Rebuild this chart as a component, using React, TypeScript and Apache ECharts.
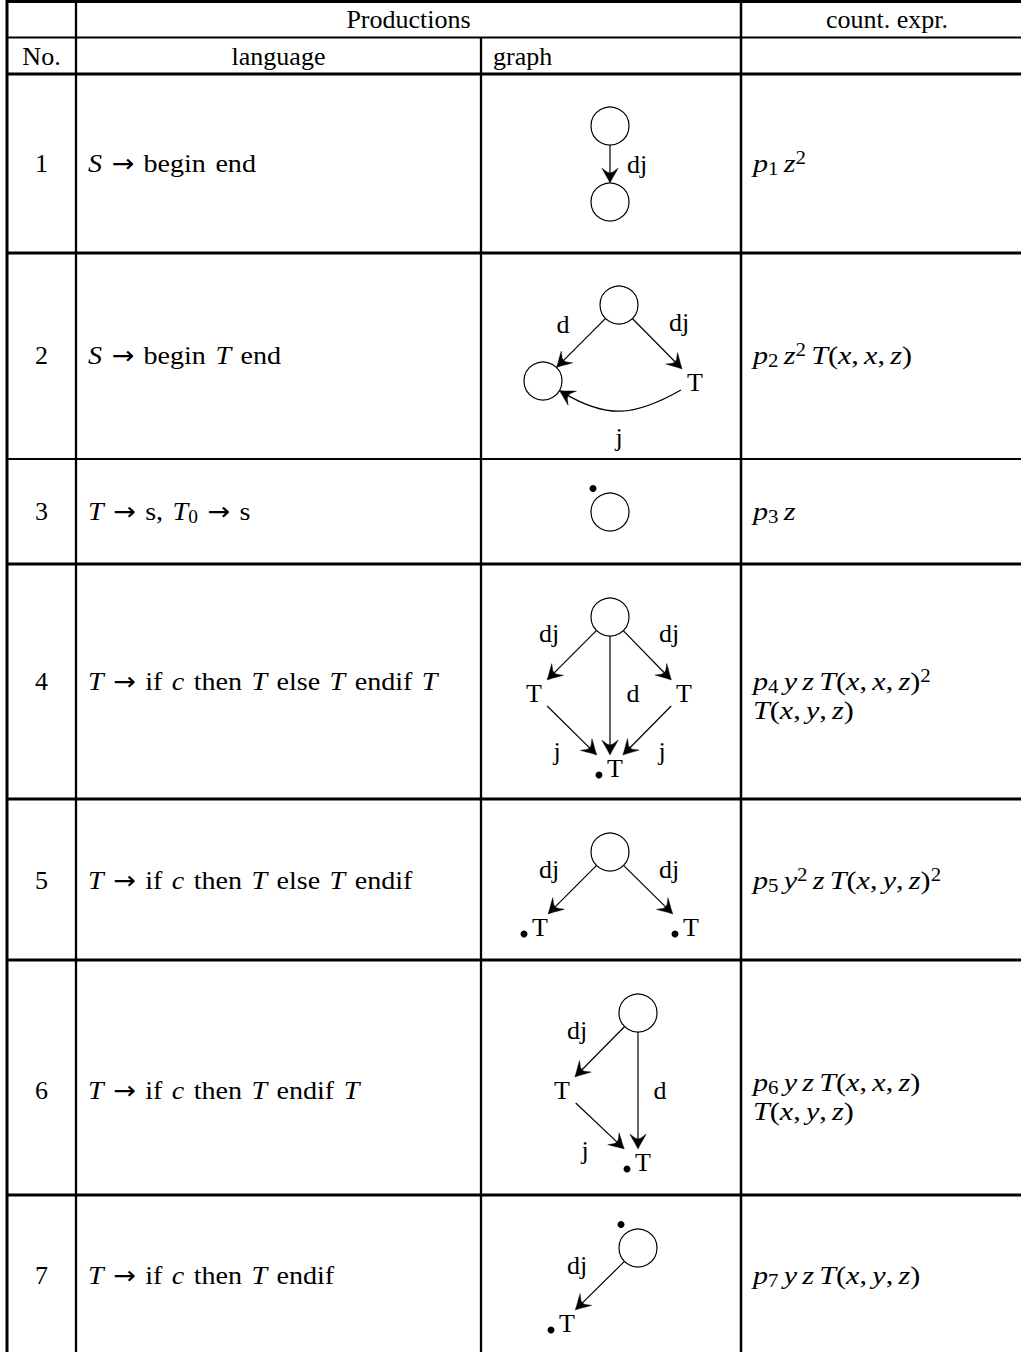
import React, { useEffect, useRef } from "react";
import * as echarts from "echarts";

const WIDTH = 1021;
const HEIGHT = 1352;
const FONT = "'Liberation Serif', 'Times New Roman', serif";
const FS = 26;
const SS = 18;
const LH = 29;

// ---- table content ----
const HEADER_TOP = ["Productions", "count. expr."];
const HEADER_SUB = ["No.", "language", "graph"];
const ROW_NUMBERS = ["1", "2", "3", "4", "5", "6", "7"];
const LANGUAGE = [
  "{i|S} {ar|→} begin end",
  "{i|S} {ar|→} begin {i|T} end",
  "{i|T} {ar|→} s, {i|T}{sub|0} {ar|→} s",
  "{i|T} {ar|→} if {i|c} then {i|T} else {i|T} endif {i|T}",
  "{i|T} {ar|→} if {i|c} then {i|T} else {i|T} endif",
  "{i|T} {ar|→} if {i|c} then {i|T} endif {i|T}",
  "{i|T} {ar|→} if {i|c} then {i|T} endif",
];
const EXPRESSIONS = [
  "{i|p}{sub|1} {i|z}{sup|2}",
  "{i|p}{sub|2} {i|z}{sup|2} {i|T}({i|x}, {i|x}, {i|z})",
  "{i|p}{sub|3} {i|z}",
  "{i|p}{sub|4} {i|y} {i|z} {i|T}({i|x}, {i|x}, {i|z}){sup|2}\n{i|T}({i|x}, {i|y}, {i|z})",
  "{i|p}{sub|5} {i|y}{sup|2} {i|z} {i|T}({i|x}, {i|y}, {i|z}){sup|2}",
  "{i|p}{sub|6} {i|y} {i|z} {i|T}({i|x}, {i|x}, {i|z})\n{i|T}({i|x}, {i|y}, {i|z})",
  "{i|p}{sub|7} {i|y} {i|z} {i|T}({i|x}, {i|y}, {i|z})",
];

// ---- graph content (node kinds, edges and their labels) ----
type GNode = { id: string; kind: "circle" | "T"; dot?: boolean };
type GEdge = { from: string; to: string; label: string; bend?: number };

const GRAPH_NODES: GNode[][] = [
  [{ id: "a", kind: "circle" }, { id: "b", kind: "circle" }],
  [{ id: "a", kind: "circle" }, { id: "l", kind: "circle" }, { id: "t", kind: "T" }],
  [{ id: "a", kind: "circle", dot: true }],
  [{ id: "a", kind: "circle" }, { id: "l", kind: "T" }, { id: "r", kind: "T" }, { id: "b", kind: "T", dot: true }],
  [{ id: "a", kind: "circle" }, { id: "l", kind: "T", dot: true }, { id: "r", kind: "T", dot: true }],
  [{ id: "a", kind: "circle" }, { id: "t", kind: "T" }, { id: "b", kind: "T", dot: true }],
  [{ id: "a", kind: "circle", dot: true }, { id: "b", kind: "T", dot: true }],
];
const GRAPH_EDGES: GEdge[][] = [
  [{ from: "a", to: "b", label: "dj" }],
  [
    { from: "a", to: "l", label: "d" },
    { from: "a", to: "t", label: "dj" },
    { from: "t", to: "l", label: "j", bend: 30 },
  ],
  [],
  [
    { from: "a", to: "l", label: "dj" },
    { from: "a", to: "r", label: "dj" },
    { from: "a", to: "b", label: "d" },
    { from: "l", to: "b", label: "j" },
    { from: "r", to: "b", label: "j" },
  ],
  [
    { from: "a", to: "l", label: "dj" },
    { from: "a", to: "r", label: "dj" },
  ],
  [
    { from: "a", to: "t", label: "dj" },
    { from: "a", to: "b", label: "d" },
    { from: "t", to: "b", label: "j" },
  ],
  [{ from: "a", to: "b", label: "dj" }],
];

// ---- layout (positions, sizes) ----
const NODE_POS: Record<string, [number, number]>[] = [
  { a: [610, 126], b: [610, 202] },
  { a: [619, 305], l: [543, 381], t: [695, 382] },
  { a: [610, 512] },
  { a: [610, 617], l: [534, 693], r: [684, 693], b: [610, 768] },
  { a: [610, 852], l: [535, 927], r: [686, 927] },
  { a: [638, 1013], t: [562, 1090], b: [638, 1162] },
  { a: [638, 1248], b: [562, 1323] },
];
const LABEL_POS: [number, number][][] = [
  [[637, 164]],
  [[563, 324], [679, 322], [619, 437]],
  [],
  [[549, 633], [669, 633], [633, 693], [557, 751], [662, 751]],
  [[549, 869], [669, 869]],
  [[577, 1030], [660, 1090], [585, 1150]],
  [[577, 1265]],
];
const ROW_TEXT_Y = [163, 355, 511, 681, 880, 1090, 1275];
const EXPR_Y = [163, 355, 511, 695.5, 880, 1097, 1275];
const H_LINES: [number, number][] = [
  [1.5, 3], [37.5, 2], [74, 3], [253, 3], [459, 2], [564, 3], [799, 3], [960, 3], [1195, 3],
];
const V_LINES: [number, number, number][] = [
  [7, 0, 3], [76, 0, 2.3], [481, 37.5, 2.3], [741, 0, 2.5],
];
const LANG_X = 88;
const EXPR_X = 753;
const LANG_SCALE = 1.08;
const EXPR_SCALE = 1.16;

const CIRCLE_R = 19;
const T_HW = 14;
const T_HH = 13;
const HEAD: [number, number][] = [
  [0, 0], [-5, -2.6], [-10.5, -5.8], [-15, -8.2], [-11, -3], [-10, 0],
  [-11, 3], [-15, 8.2], [-10.5, 5.8], [-5, 2.6],
];

const rich = {
  r: { fontFamily: FONT, fontSize: FS, lineHeight: LH, fill: "#000" },
  i: { fontFamily: FONT, fontSize: FS, fontStyle: "italic", lineHeight: LH, fill: "#000" },
  s: { fontFamily: FONT, fontSize: 35, lineHeight: LH, fill: "#000" },
  t: { fontFamily: FONT, fontSize: 18, lineHeight: LH, fill: "#000" },
  ar: { fontFamily: "'DejaVu Sans', sans-serif", fontSize: 25, lineHeight: LH, fill: "#000" },
  sub: { fontFamily: FONT, fontSize: SS, lineHeight: 16, verticalAlign: "bottom", fill: "#000" },
  sup: { fontFamily: FONT, fontSize: SS, lineHeight: 16, verticalAlign: "top", fill: "#000" },
};

// wrap plain segments into roman tokens and spaces into spacing tokens
function plainPart(s: string, space: string): string {
  return s
    .split("\n")
    .map((line) =>
      line
        .split(" ")
        .map((w) => (w ? `{r|${w}}` : ""))
        .join(`{${space}| }`)
    )
    .join("\n");
}
function toRich(src: string, space: string): string {
  const out: string[] = [];
  const re = /\{(\w+)\|([^}]*)\}/g;
  let last = 0;
  let m: RegExpExecArray | null;
  while ((m = re.exec(src))) {
    if (m.index > last) out.push(plainPart(src.slice(last, m.index), space));
    out.push(m[0]);
    last = re.lastIndex;
  }
  if (last < src.length) out.push(plainPart(src.slice(last), space));
  return out.join("");
}

function txt(text: string, x: number, y: number, align = "left", useRich = false, scaleX = 1): any {
  const style: any = {
    text,
    fontFamily: FONT,
    fontSize: FS,
    lineHeight: LH,
    fill: "#000",
    align,
    verticalAlign: "middle",
  };
  if (useRich) style.rich = rich;
  return { type: "text", x, y, scaleX, silent: true, style };
}

function arrowHead(tx: number, ty: number, ux: number, uy: number): any {
  const pts = HEAD.map(([a, b]) => [tx + a * ux - b * uy, ty + a * uy + b * ux]);
  return {
    type: "polygon",
    shape: { points: pts },
    style: { fill: "#000", stroke: "#000", lineWidth: 0.4 },
  };
}

function boundary(kind: string, ux: number, uy: number): number {
  if (kind === "circle") return CIRCLE_R;
  const ax = Math.abs(ux), ay = Math.abs(uy);
  return Math.min(ax > 1e-6 ? T_HW / ax : 1e9, ay > 1e-6 ? T_HH / ay : 1e9);
}

function buildGraphic(): any[] {
  const g: any[] = [];
  H_LINES.forEach(([y, w]) =>
    g.push({ type: "line", shape: { x1: 7, y1: y, x2: WIDTH, y2: y }, style: { stroke: "#000", lineWidth: w } })
  );
  V_LINES.forEach(([x, y0, w]) =>
    g.push({ type: "line", shape: { x1: x, y1: y0, x2: x, y2: HEIGHT }, style: { stroke: "#000", lineWidth: w } })
  );
  g.push(txt(HEADER_TOP[0], 408.5, 19, "center"));
  g.push(txt(HEADER_TOP[1], 887, 19, "center"));
  g.push(txt(HEADER_SUB[0], 41.5, 56, "center"));
  g.push(txt(HEADER_SUB[1], 278.5, 56, "center"));
  g.push(txt(HEADER_SUB[2], 493, 56, "left"));
  ROW_NUMBERS.forEach((n, i) => {
    g.push(txt(n, 41.5, ROW_TEXT_Y[i], "center"));
    g.push(txt(toRich(LANGUAGE[i], "s"), LANG_X, ROW_TEXT_Y[i], "left", true, LANG_SCALE));
    g.push(txt(toRich(EXPRESSIONS[i], "t"), EXPR_X, EXPR_Y[i], "left", true, EXPR_SCALE));
  });
  GRAPH_NODES.forEach((nodes, ri) => {
    const pos = NODE_POS[ri];
    const kinds: Record<string, string> = {};
    nodes.forEach((nd) => {
      kinds[nd.id] = nd.kind;
      const [x, y] = pos[nd.id];
      if (nd.kind === "circle") {
        g.push({ type: "circle", shape: { cx: x, cy: y, r: CIRCLE_R }, style: { stroke: "#000", fill: "none", lineWidth: 1.2 } });
        if (nd.dot) g.push({ type: "circle", shape: { cx: x - 17, cy: y - 23.5, r: 3.5 }, style: { fill: "#000" } });
      } else if (nd.dot) {
        g.push({ type: "circle", shape: { cx: x - 11, cy: y + 7, r: 3.5 }, style: { fill: "#000" } });
        g.push(txt("T", x + 5, y, "center"));
      } else {
        g.push(txt("T", x, y, "center"));
      }
    });
    GRAPH_EDGES[ri].forEach((e, ei) => {
      const [x1, y1] = pos[e.from];
      const [x2, y2] = pos[e.to];
      const dx = x2 - x1, dy = y2 - y1;
      const len = Math.hypot(dx, dy);
      const ux = dx / len, uy = dy / len;
      if (e.bend) {
        const a = (e.bend * Math.PI) / 180;
        const c = Math.cos(a), s = Math.sin(a);
        const sx = ux * c + uy * s, sy = uy * c - ux * s;
        const ex = ux * c - uy * s, ey = uy * c + ux * s;
        const bs = boundary(kinds[e.from], sx, sy);
        const be = boundary(kinds[e.to], ex, ey);
        const p1x = x1 + sx * bs, p1y = y1 + sy * bs;
        const p2x = x2 - ex * be, p2y = y2 - ey * be;
        const d = Math.hypot(p2x - p1x, p2y - p1y) * 0.45;
        g.push({
          type: "bezierCurve",
          shape: {
            x1: p1x, y1: p1y, x2: p2x - ex * 6, y2: p2y - ey * 6,
            cpx1: p1x + sx * d, cpy1: p1y + sy * d,
            cpx2: p2x - ex * d, cpy2: p2y - ey * d,
          },
          style: { stroke: "#000", fill: "none", lineWidth: 1.2 },
        });
        g.push(arrowHead(p2x, p2y, ex, ey));
      } else {
        const bs = boundary(kinds[e.from], ux, uy);
        const be = boundary(kinds[e.to], ux, uy);
        const p1x = x1 + ux * bs, p1y = y1 + uy * bs;
        const p2x = x2 - ux * be, p2y = y2 - uy * be;
        g.push({ type: "line", shape: { x1: p1x, y1: p1y, x2: p2x - ux * 7, y2: p2y - uy * 7 }, style: { stroke: "#000", lineWidth: 1.2 } });
        g.push(arrowHead(p2x, p2y, ux, uy));
      }
      const [lx, ly] = LABEL_POS[ri][ei];
      g.push(txt(e.label, lx, ly, "center"));
    });
  });
  return g;
}

export default function App() {
  const ref = useRef<HTMLDivElement>(null);
  useEffect(() => {
    document.body.style.margin = "0";
    const chart = echarts.init(ref.current!, null, { renderer: "svg", width: WIDTH, height: HEIGHT });
    chart.setOption({ animation: false, backgroundColor: "#fff", graphic: buildGraphic() });
    return () => chart.dispose();
  }, []);
  return <div ref={ref} style={{ width: WIDTH, height: HEIGHT }} />;
}
